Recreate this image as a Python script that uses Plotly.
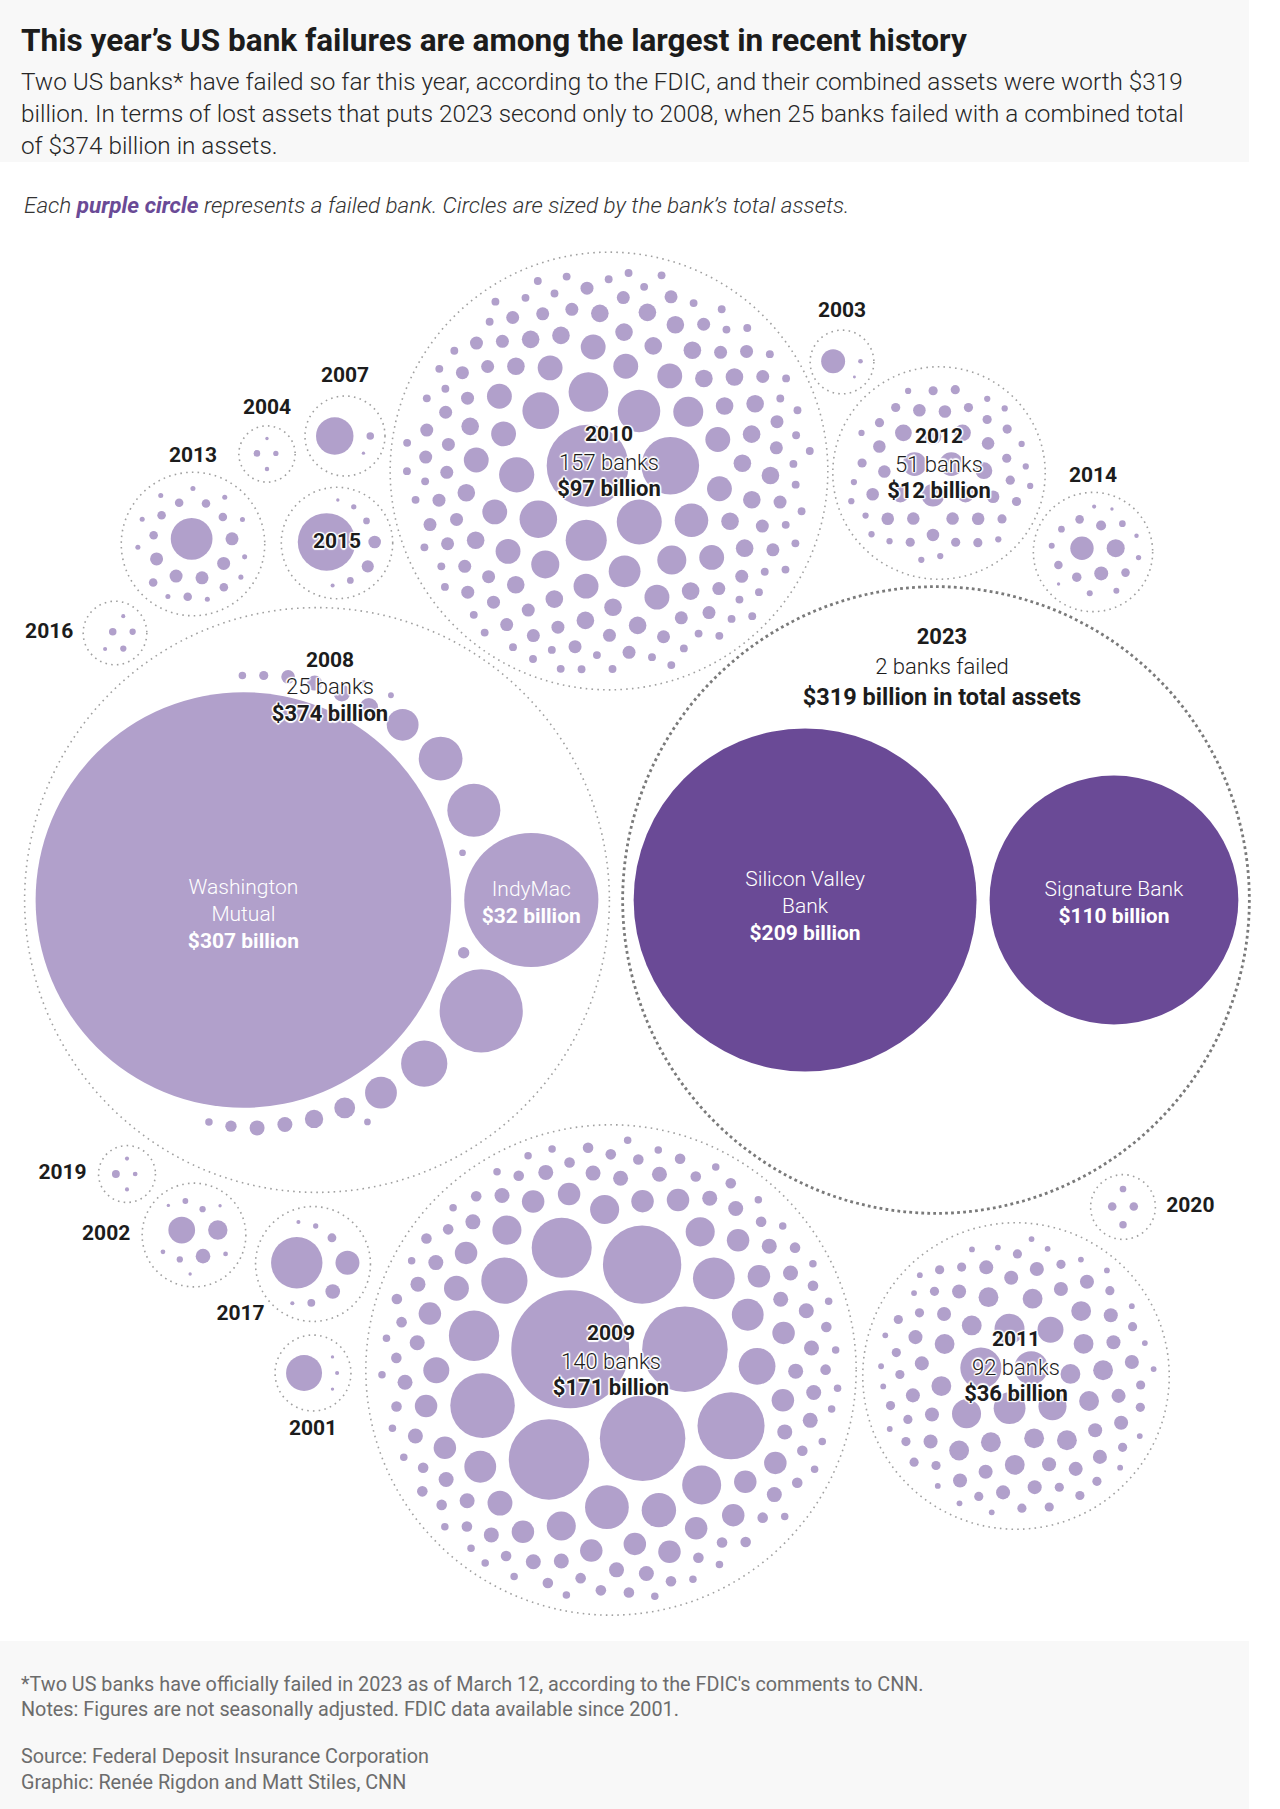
import numpy as np
import plotly.graph_objects as go

# ----------------------------- DATA -----------------------------
years = [2001, 2002, 2003, 2004, 2007, 2008, 2009, 2010, 2011, 2012,
         2013, 2014, 2015, 2016, 2017, 2019, 2020, 2023]
banks_failed = [4, 11, 3, 4, 3, 25, 140, 157, 92, 51, 24, 18, 8, 5, 8, 4, 4, 2]
total_assets_bn = [2.4, 2.6, 1.1, 0.2, 2.6, 374, 171, 97, 36, 12,
                   6.1, 3.1, 6.7, 0.3, 6.5, 0.2, 0.4, 319]

# estimated assets ($ billion) of each failed bank, read from the circle sizes
assets_2001 = [2.3, 0.03, 0.02, 0.02]
assets_2002 = [1.27, 0.67, 0.38, 0.07, 0.07, 0.06, 0.04, 0.04, 0.02, 0.02, 0.02]
assets_2003 = [1.02, 0.04, 0.015]
assets_2004 = [0.077, 0.05, 0.035, 0.02]
assets_2007 = [2.5, 0.1, 0.02]
assets_2008 = [307, 32, 12.3, 5.0, 3.8, 3.4, 1.8, 1.8, 0.77, 0.6, 0.6, 0.5, 0.4,
               0.4, 0.4, 0.33, 0.23, 0.23, 0.15, 0.1, 0.1, 0.08, 0.08, 0.06, 0.05]
assets_2009 = ([24.7, 13.0, 13.0, 11.5, 10.9, 8.0, 7.4, 6.4, 4.5, 3.8, 3.4, 3.1,
                2.7, 2.4, 2.1, 1.8, 1.8, 1.5, 1.5, 1.5, 1.5, 1.2, 1.1, 1.1]
               + [0.9] * 20 + [0.4] * 30 + [0.2] * 36 + [0.1] * 30)
assets_2010 = ([11.9, 5.9, 3.6, 3.2, 3.0, 2.8, 2.5, 2.4, 2.2, 2.0, 1.8, 1.6, 1.5, 1.4]
               + [1.1] * 14 + [0.55] * 28 + [0.3] * 45 + [0.11] * 56)
assets_2011 = ([3.0, 2.0, 1.8, 1.6, 1.5, 1.4, 1.2]
               + [0.7] * 15 + [0.35] * 25 + [0.15] * 25 + [0.06] * 20)
assets_2012 = [1.0, 1.0, 0.9] + [0.5] * 6 + [0.28] * 12 + [0.15] * 15 + [0.07] * 15
assets_2013 = [3.1] + [0.3] * 5 + [0.13] * 8 + [0.045] * 10
assets_2014 = [0.97, 0.58, 0.35, 0.18, 0.16, 0.13, 0.13, 0.13, 0.08, 0.08,
               0.064, 0.064, 0.064, 0.05, 0.035, 0.03, 0.02, 0.02]
assets_2015 = [5.9, 0.28, 0.26, 0.08, 0.08, 0.05, 0.03, 0.02]
assets_2016 = [0.1, 0.07, 0.07, 0.03, 0.03]
assets_2017 = [4.7, 1.02, 0.38, 0.14, 0.11, 0.05, 0.03, 0.03]
assets_2019 = [0.11, 0.04, 0.03, 0.03]
assets_2020 = [0.13, 0.13, 0.1, 0.08]
assets_2023 = [209, 110]

named_2008_lines = [["Washington", "Mutual"], ["IndyMac"]]
named_2023_lines = [["Silicon Valley", "Bank"], ["Signature Bank"]]

title = "This year\u2019s US bank failures are among the largest in recent history"
subtitle = ["Two US banks* have failed so far this year, according to the FDIC, and their combined assets were worth $319",
            "billion. In terms of lost assets that puts 2023 second only to 2008, when 25 banks failed with a combined total",
            "of $374 billion in assets."]
footnotes = ["*Two US banks have officially failed in 2023 as of March 12, according to the FDIC's comments to CNN.",
             "Notes: Figures are not seasonally adjusted. FDIC data available since 2001."]
credits = ["Source: Federal Deposit Insurance Corporation",
           "Graphic: Ren\u00e9e Rigdon and Matt Stiles, CNN"]

asset_lists = [assets_2001, assets_2002, assets_2003, assets_2004, assets_2007,
               assets_2008, assets_2009, assets_2010, assets_2011, assets_2012,
               assets_2013, assets_2014, assets_2015, assets_2016, assets_2017,
               assets_2019, assets_2020, assets_2023]

# ----------------------------- LAYOUT -----------------------------
W, H = 1280, 1809
K = 11.86          # radius px per sqrt($bn)
PAD = 13.0         # gap between bank circles
OUTER_PAD = 11.0   # gap between banks and year ring
FONT = "Roboto, 'Liberation Sans', Arial, sans-serif"
LIGHT = "#b1a0cb"
DARK = "#6a4a96"

group_anchor = {2001: (313, 1373), 2002: (194, 1235), 2003: (842, 362), 2004: (267, 454),
                2007: (345, 436), 2008: (317, 900), 2009: (611, 1370), 2010: (609, 471),
                2011: (1016, 1376), 2012: (939, 473), 2013: (193, 544), 2014: (1093, 552),
                2015: (337, 543), 2016: (115, 633), 2017: (313, 1264), 2019: (127, 1174),
                2020: (1123, 1207), 2023: (936, 900)}
label_place = {2001: ("below", 19), 2002: ("left", 36), 2003: ("above", 18), 2004: ("above", 17),
               2007: ("above", 19), 2013: ("above", 16), 2014: ("above", 16), 2016: ("left", 34),
               2019: ("left", 36), 2017: ("angle", 145, 31), 2020: ("right", 35), 2015: ("center", 0)}


def pack(values):
    v = np.asarray(values, float)
    order = np.argsort(-v, kind="stable")
    r = K * np.sqrt(v[order])
    n = len(r)
    P = np.zeros((n, 2))
    if n > 1:
        P[1] = [r[0] + r[1] + PAD, 0.0]
    for k in range(2, n):
        Q = P[:k]
        R = r[:k]
        w = R ** 2
        cen = (Q * w[:, None]).sum(0) / w.sum()
        D = R + r[k] + PAD
        I, J = np.triu_indices(k, 1)
        dv = Q[J] - Q[I]
        d = np.hypot(dv[:, 0], dv[:, 1])
        ok = (d < D[I] + D[J]) & (d > np.abs(D[I] - D[J])) & (d > 1e-9)
        I, J, dv, d = I[ok], J[ok], dv[ok], d[ok]
        a = (D[I] ** 2 - D[J] ** 2 + d ** 2) / (2 * d)
        h = np.sqrt(np.maximum(D[I] ** 2 - a ** 2, 0))
        ux = dv / d[:, None]
        base = Q[I] + a[:, None] * ux
        perp = np.stack([-ux[:, 1], ux[:, 0]], 1)
        cands = [base + h[:, None] * perp, base - h[:, None] * perp]
        dc = cen - Q
        nd = np.hypot(dc[:, 0], dc[:, 1])
        m = nd > 1e-9
        cands.append(Q[m] + D[m][:, None] * dc[m] / nd[m][:, None])
        C = np.vstack(cands)
        dist = np.hypot(C[:, None, 0] - Q[None, :, 0], C[:, None, 1] - Q[None, :, 1])
        valid = np.all(dist >= D[None, :] - 1e-6, axis=1)
        C = C[valid]
        if len(C) == 0:
            P[k] = [Q[:, 0].max() + R.max() + r[k] + PAD, 0]
            continue
        P[k] = C[np.argmin(np.hypot(C[:, 0] - cen[0], C[:, 1] - cen[1]))]
    out = np.zeros_like(P)
    out[order] = P
    rr = np.zeros(n)
    rr[order] = r
    return out, rr


def enclose(P, r):
    c = (P * (r ** 2)[:, None]).sum(0) / (r ** 2).sum()
    f = lambda c: (np.hypot(P[:, 0] - c[0], P[:, 1] - c[1]) + r).max()
    for t in range(1, 400):
        dd = np.hypot(P[:, 0] - c[0], P[:, 1] - c[1])
        i = np.argmax(dd + r)
        u = (P[i] - c) / max(dd[i], 1e-9)
        far = P[i] + r[i] * u
        c = c + (far - c) / (t + 1)
    s = f(c) / 4
    angs = np.linspace(0, 2 * np.pi, 48, endpoint=False)
    dirs = np.stack([np.cos(angs), np.sin(angs)], 1)
    best = f(c)
    while s > 0.005:
        trial = c + s * dirs
        vals = np.array([f(t) for t in trial])
        j = np.argmin(vals)
        if vals[j] < best:
            best, c = vals[j], trial[j]
        else:
            s /= 2
    return c, best


groups = {}
for yr, vals in zip(years, asset_lists):
    P, r = pack(vals)
    c, R = enclose(P, r)
    groups[yr] = {"P": P - c, "r": r, "R": R + OUTER_PAD}

# resolve any overlap between year rings around their anchors
centers = {y: np.array(group_anchor[y], float) for y in years}
for it in range(300):
    moved = False
    for i, a in enumerate(years):
        for b in years[i + 1:]:
            dv = centers[b] - centers[a]
            d = np.hypot(*dv)
            m = groups[a]["R"] + groups[b]["R"] + 2
            if d < m:
                u = dv / max(d, 1e-9)
                ov = m - d
                wa = groups[b]["R"] ** 2 / (groups[a]["R"] ** 2 + groups[b]["R"] ** 2)
                centers[a] -= u * ov * wa
                centers[b] += u * ov * (1 - wa)
                moved = True
    if not moved:
        break

fig = go.Figure()
shapes = [
    dict(type="rect", xref="x", yref="y", x0=0, x1=1249, y0=0, y1=162,
         fillcolor="#f8f8f8", line=dict(width=0), layer="below"),
    dict(type="rect", xref="x", yref="y", x0=0, x1=1249, y0=1641, y1=H,
         fillcolor="#f8f8f8", line=dict(width=0), layer="below"),
]
lx, ly, ls = [], [], []
dx_, dy_, ds_ = [], [], []
for yr in years:
    g = groups[yr]
    cx, cy = centers[yr]
    R = g["R"]
    if yr == 2023:
        line = dict(color="#7a7a7a", width=2.8, dash="2.8px,3.2px")
    else:
        line = dict(color="#a0a0a0", width=1.6, dash="1.6px,4.2px")
    shapes.append(dict(type="circle", xref="x", yref="y", x0=cx - R, x1=cx + R,
                       y0=cy - R, y1=cy + R, line=line, layer="below"))
    xs = g["P"][:, 0] + cx
    ys = g["P"][:, 1] + cy
    if yr == 2023:
        dx_ += list(xs); dy_ += list(ys); ds_ += list(2 * g["r"])
    else:
        lx += list(xs); ly += list(ys); ls += list(2 * g["r"])

fig.add_trace(go.Scatter(x=lx, y=ly, mode="markers", hoverinfo="skip",
                         marker=dict(size=ls, color=LIGHT, line=dict(width=0), opacity=1)))
fig.add_trace(go.Scatter(x=dx_, y=dy_, mode="markers", hoverinfo="skip",
                         marker=dict(size=ds_, color=DARK, line=dict(width=0), opacity=1)))

# ----------------------------- TEXT -----------------------------
HALO = ", ".join(f"{a}px {b}px 1px #fff" for a, b in
                 [(-1.5, 0), (1.5, 0), (0, -1.5), (0, 1.5), (-1, -1), (1, 1), (-1, 1), (1, -1)])
styles = {}


def add_text(x, y, s, size=21, weight=700, color="#1c1c1c", halo=False):
    d = styles.setdefault((size, weight, color, halo), {"x": [], "y": [], "t": []})
    d["x"].append(x); d["y"].append(y); d["t"].append(s)


def idx(yr):
    return years.index(yr)


def fmt_bn(v):
    return f"${v:g} billion"


# year labels for the small groups
for yr, spec in label_place.items():
    cx, cy = centers[yr]
    R = groups[yr]["R"]
    kind, off = spec[0], spec[-1]
    if kind == "above":
        p = (cx, cy - R - off)
    elif kind == "below":
        p = (cx, cy + R + off)
    elif kind == "left":
        p = (cx - R - off, cy)
    elif kind == "right":
        p = (cx + R + off, cy)
    elif kind == "angle":
        a = np.deg2rad(spec[1])
        p = (cx + (R + off) * np.cos(a), cy + (R + off) * np.sin(a))
    else:
        p = (cx, cy)
    add_text(p[0], p[1], str(yr), halo=(kind == "center"))

# labels inside the big groups
for yr in [2009, 2010, 2011, 2012]:
    cx, cy = centers[yr]
    i = idx(yr)
    add_text(cx, cy - 35, str(yr), halo=True)
    add_text(cx, cy - 7, f"{banks_failed[i]} banks", size=22, weight=300, halo=True)
    add_text(cx, cy + 19, fmt_bn(total_assets_bn[i]), size=22, halo=True)

cx, cy = centers[2008]; R = groups[2008]["R"]; i = idx(2008)
add_text(cx + 13, cy - R + 54, "2008", halo=True)
add_text(cx + 13, cy - R + 81, f"{banks_failed[i]} banks", size=22, weight=300, halo=True)
add_text(cx + 13, cy - R + 108, fmt_bn(total_assets_bn[i]), size=22, halo=True)

cx, cy = centers[2023]; R = groups[2023]["R"]; i = idx(2023)
add_text(cx + 6, cy - R + 52, "2023", size=22)
add_text(cx + 6, cy - R + 82, f"{banks_failed[i]} banks failed", size=22, weight=300)
add_text(cx + 6, cy - R + 112, f"{fmt_bn(total_assets_bn[i])} in total assets", size=23.5)

# named banks inside their circles
for yr, lines_list in [(2008, named_2008_lines), (2023, named_2023_lines)]:
    g = groups[yr]
    cx, cy = centers[yr]
    vals = asset_lists[idx(yr)]
    for b, lines in enumerate(lines_list):
        bx, by = g["P"][b, 0] + cx, g["P"][b, 1] + cy
        rows = lines + [fmt_bn(vals[b])]
        n = len(rows)
        start = by + 10 - 27 * (n - 1) / 2 - (2 if n == 3 else 6)
        if yr == 2008 and b == 0:
            start += 8
        for j, row in enumerate(rows):
            add_text(bx, start + 27 * j, row, size=21,
                     weight=(700 if j == n - 1 else 300), color="#ffffff")

for (size, weight, color, halo), d in styles.items():
    tf = dict(family=FONT, size=size, color=color, weight=weight)
    if halo:
        tf["shadow"] = HALO
    fig.add_trace(go.Scatter(x=d["x"], y=d["y"], text=d["t"], mode="text",
                             textposition="middle center", hoverinfo="skip",
                             textfont=tf))

ann = []
ann.append(dict(x=19, y=40, text=f"<b>{title}</b>", font=dict(family=FONT, size=31.5, color="#1c1c1c")))
for j, line in enumerate(subtitle):
    ann.append(dict(x=19, y=81 + 32 * j, text=line,
                    font=dict(family=FONT, size=24.3, color="#262626", weight=300)))
ann.append(dict(x=22, y=205,
                text="<i>Each <b><span style='color:#6a4a96'>purple circle</span></b> represents a failed bank. "
                     "Circles are sized by the bank\u2019s total assets.</i>",
                font=dict(family=FONT, size=22.5, color="#333333", weight=300)))
for j, line in enumerate(footnotes):
    ann.append(dict(x=19, y=1684 + 25 * j, text=line, font=dict(family=FONT, size=19.8, color="#6c6c6c")))
for j, line in enumerate(credits):
    ann.append(dict(x=19, y=1756 + 26 * j, text=line, font=dict(family=FONT, size=19.8, color="#6c6c6c")))
for a in ann:
    a.update(xref="x", yref="y", xanchor="left", yanchor="middle", showarrow=False)

fig.update_layout(
    width=W, height=H, autosize=False, margin=dict(l=0, r=0, t=0, b=0, pad=0),
    paper_bgcolor="white", plot_bgcolor="white", showlegend=False,
    xaxis=dict(range=[0, W], visible=False, fixedrange=True),
    yaxis=dict(range=[H, 0], visible=False, fixedrange=True),
    shapes=shapes, annotations=ann,
)
fig.write_html("out.html", config={"displayModeBar": False},
               post_script="document.body.style.margin='0';")
